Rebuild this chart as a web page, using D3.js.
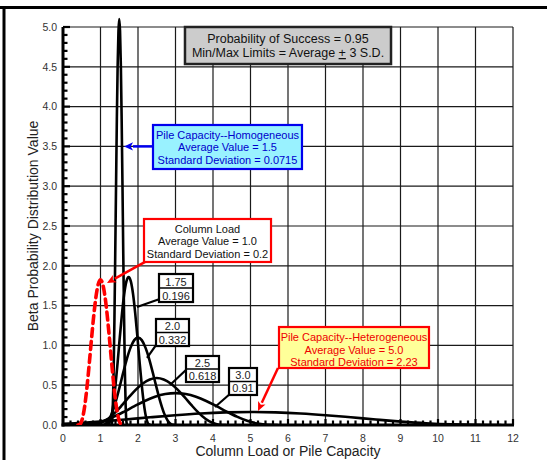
<!DOCTYPE html>
<html>
<head>
<meta charset="utf-8">
<script src="https://cdn.jsdelivr.net/npm/d3@7"></script>
<style>
  body { margin: 0; background: #fff; }
  svg text { font-family: "Liberation Sans", Arial, sans-serif; }
</style>
</head>
<body>
<svg id="chart" width="547" height="460"></svg>
<script>
// ---------------- DATA ----------------
const xTickValues = [0,1,2,3,4,5,6,7,8,9,10,11,12];
const yTickValues = [0,0.5,1,1.5,2,2.5,3,3.5,4,4.5,5];

// Column load: average 1.0, s.d. 0.2 (red dashed)
const columnLoad = [[0.40,0],[0.46,0.0125],[0.52,0.085],[0.58,0.242],[0.64,0.478],[0.70,0.769],[0.76,1.080],[0.82,1.374],[0.88,1.613],[0.94,1.769],[1.00,1.823],[1.06,1.769],[1.12,1.613],[1.18,1.374],[1.24,1.080],[1.30,0.769],[1.36,0.478],[1.42,0.242],[1.48,0.085],[1.54,0.0125],[1.60,0]];
// Pile capacity homogeneous: average 1.5, s.d. 0.0715
const pileHomog = [[1.286,0],[1.307,0.035],[1.329,0.238],[1.350,0.676],[1.372,1.337],[1.393,2.151],[1.415,3.022],[1.436,3.843],[1.457,4.511],[1.479,4.948],[1.500,5.099],[1.521,4.948],[1.543,4.511],[1.564,3.843],[1.586,3.022],[1.607,2.151],[1.629,1.337],[1.650,0.676],[1.671,0.238],[1.693,0.035],[1.714,0]];
// Average 1.75, s.d. 0.196
const pile175 = [[1.162,0],[1.221,0.013],[1.280,0.087],[1.338,0.247],[1.397,0.488],[1.456,0.785],[1.515,1.103],[1.574,1.402],[1.632,1.646],[1.691,1.805],[1.750,1.860],[1.809,1.805],[1.868,1.646],[1.926,1.402],[1.985,1.103],[2.044,0.785],[2.103,0.488],[2.162,0.247],[2.220,0.087],[2.279,0.013],[2.338,0]];
// Average 2.0, s.d. 0.332
const pile20 = [[1.004,0],[1.104,0.0075],[1.203,0.051],[1.303,0.146],[1.402,0.288],[1.502,0.463],[1.602,0.651],[1.701,0.828],[1.801,0.972],[1.900,1.066],[2.000,1.098],[2.100,1.066],[2.199,0.972],[2.299,0.828],[2.398,0.651],[2.498,0.463],[2.598,0.288],[2.697,0.146],[2.797,0.051],[2.896,0.0075],[2.996,0]];
// Average 2.5, s.d. 0.618
const pile25 = [[0.646,0],[0.831,0.004],[1.017,0.0275],[1.202,0.078],[1.388,0.155],[1.573,0.249],[1.758,0.350],[1.944,0.445],[2.129,0.522],[2.315,0.572],[2.500,0.590],[2.685,0.572],[2.871,0.522],[3.056,0.445],[3.242,0.350],[3.427,0.249],[3.612,0.155],[3.798,0.078],[3.983,0.0275],[4.169,0.004],[4.354,0]];
// Average 3.0, s.d. 0.91
const pile30 = [[0.270,0],[0.543,0.0027],[0.816,0.019],[1.089,0.053],[1.362,0.105],[1.635,0.169],[1.908,0.2375],[2.181,0.302],[2.454,0.3545],[2.727,0.389],[3.000,0.401],[3.273,0.389],[3.546,0.3545],[3.819,0.302],[4.092,0.2375],[4.365,0.169],[4.638,0.105],[4.911,0.053],[5.184,0.019],[5.457,0.0027],[5.730,0]];
// Pile capacity heterogeneous: average 5.0, s.d. 2.23
const pileHeter = [[-1.690,0],[-1.021,0.0011],[-0.352,0.0076],[0.317,0.0217],[0.986,0.0429],[1.655,0.069],[2.324,0.0969],[2.993,0.1232],[3.662,0.1446],[4.331,0.1586],[5.000,0.1635],[5.669,0.1586],[6.338,0.1446],[7.007,0.1232],[7.676,0.0969],[8.345,0.069],[9.014,0.0429],[9.683,0.0217],[10.352,0.0076],[11.021,0.0011],[11.690,0]];

const blackCurves = [pileHomog, pile175, pile20, pile25, pile30, pileHeter];

const infoLines = ["Probability of Success = 0.95", "Min/Max Limits = Average ", "+", " 3 S.D."];
const homogLines = ["Pile Capacity--Homogeneous", "Average Value = 1.5", "Standard Deviation = 0.0715"];
const columnLines = ["Column Load", "Average Value = 1.0", "Standard Deviation = 0.2"];
const heterLines = ["Pile Capacity--Heterogeneous", "Average Value = 5.0", "Standard Deviation = 2.23"];
const pairLabels = [["1.75","0.196"],["2.0","0.332"],["2.5","0.618"],["3.0","0.91"]];

// ---------------- CHART ----------------
const svg = d3.select("#chart");
const x = d3.scaleLinear().domain([0,12]).range([63,513]);
const y = d3.scaleLinear().domain([0,5]).range([425,27]);

// outer frame (top and left)
svg.append("line").attr("x1",0).attr("x2",547).attr("y1",7.5).attr("y2",7.5).attr("stroke","#000").attr("stroke-width",3);
svg.append("line").attr("x1",4).attr("x2",4).attr("y1",6).attr("y2",460).attr("stroke","#000").attr("stroke-width",3);

const defs = svg.append("defs");
defs.append("clipPath").attr("id","plotclip").append("rect")
  .attr("x",x(0)).attr("y",0).attr("width",x(12)-x(0)).attr("height",y(0));

// grid
const grid = svg.append("g");
xTickValues.filter(d=>d>0).forEach(d=>{
  grid.append("line").attr("x1",x(d)).attr("x2",x(d)).attr("y1",y(0)).attr("y2",y(5))
    .attr("stroke","#1a1a1a").attr("stroke-width",1.2);
});
yTickValues.filter(d=>d>0).forEach(d=>{
  grid.append("line").attr("x1",x(0)).attr("x2",x(12)).attr("y1",y(d)).attr("y2",y(d))
    .attr("stroke","#1a1a1a").attr("stroke-width",1.2);
});

// axes: ticks
const ax = svg.append("g");
d3.range(0,5.0001,0.1).forEach(v=>{
  const major = Math.abs(v*2 - Math.round(v*2)) < 1e-6;
  ax.append("line").attr("x1",x(0)).attr("x2",x(0)+(major?7:4.5))
    .attr("y1",y(v)).attr("y2",y(v)).attr("stroke","#000").attr("stroke-width",2.2);
});
d3.range(0,12.0001,0.2).forEach(v=>{
  const major = Math.abs(v - Math.round(v)) < 1e-6;
  ax.append("line").attr("x1",x(v)).attr("x2",x(v))
    .attr("y1",y(0)).attr("y2",y(0)-(major?6:4.5)).attr("stroke","#000").attr("stroke-width",2.2);
});
ax.append("line").attr("x1",x(0)).attr("x2",x(0)).attr("y1",y(0)+1.5).attr("y2",y(5)).attr("stroke","#000").attr("stroke-width",3);
ax.append("line").attr("x1",x(0)-1.5).attr("x2",x(12)+1).attr("y1",y(0)).attr("y2",y(0)).attr("stroke","#000").attr("stroke-width",3);

// tick labels
yTickValues.forEach(v=>{
  ax.append("text").attr("x",x(0)-6).attr("y",y(v)+3.8).attr("text-anchor","end")
    .attr("font-size",10.5).attr("fill","#333").text(d3.format(".1f")(v));
});
xTickValues.forEach(v=>{
  ax.append("text").attr("x",x(v)).attr("y",y(0)+17).attr("text-anchor","middle")
    .attr("font-size",10.5).attr("fill","#333").text(v);
});

// axis titles
svg.append("text").attr("x",288).attr("y",456).attr("text-anchor","middle")
  .attr("font-size",14).attr("fill","#222").text("Column Load or Pile Capacity");
svg.append("text").attr("transform","translate(38,226) rotate(-90)").attr("text-anchor","middle")
  .attr("font-size",14).attr("fill","#222").text("Beta Probability Distribution Value");

// curves
const line = d3.line().x(d=>x(d[0])).y(d=>y(d[1])).curve(d3.curveMonotoneX);
const cg = svg.append("g").attr("clip-path","url(#plotclip)");
blackCurves.forEach(c=>{
  cg.append("path").datum(c).attr("d",line).attr("fill","none")
    .attr("stroke","#000").attr("stroke-width",2.6).attr("stroke-linejoin","round");
});
cg.append("path").datum(columnLoad).attr("d",line).attr("fill","none")
  .attr("stroke","#ff0000").attr("stroke-width",3.6).attr("stroke-dasharray","8,5")
  .attr("stroke-linecap","round");

// arrow helper
function arrow(g, x1,y1,x2,y2,color,w,head){
  const ang = Math.atan2(y2-y1,x2-x1);
  const bx = x2 - head*Math.cos(ang), by = y2 - head*Math.sin(ang);
  g.append("line").attr("x1",x1).attr("y1",y1).attr("x2",bx).attr("y2",by)
    .attr("stroke",color).attr("stroke-width",w);
  const hw = head*0.45;
  const p = [[x2,y2],[bx+hw*Math.sin(ang), by-hw*Math.cos(ang)],[bx+head*0.25*Math.cos(ang), by+head*0.25*Math.sin(ang)],[bx-hw*Math.sin(ang), by+hw*Math.cos(ang)]];
  g.append("path").attr("d","M"+p.map(q=>q.join(",")).join("L")+"Z").attr("fill",color);
}

const ann = svg.append("g");

// info box
{
  const x0=x(3.253), x1=x(8.747), y0=y(5.0), y1=y(4.535);
  ann.append("rect").attr("x",x0).attr("y",y0).attr("width",x1-x0).attr("height",y1-y0)
    .attr("fill","#cccccc").attr("stroke","#222").attr("stroke-width",2.5);
  const cx=(x0+x1)/2;
  ann.append("text").attr("x",cx).attr("y",y0+16).attr("text-anchor","middle").attr("font-size",12.5).attr("fill","#111").text(infoLines[0]);
  const t = ann.append("text").attr("x",cx).attr("y",y0+30).attr("text-anchor","middle").attr("font-size",12.5).attr("fill","#111");
  t.append("tspan").text(infoLines[1]);
  t.append("tspan").attr("text-decoration","underline").style("text-decoration","underline").text(infoLines[2]);
  t.append("tspan").text(infoLines[3]);
}

function textBox(x0d,x1d,y0d,y1d,lines,fill,stroke,tcolor){
  const x0=x(x0d), x1=x(x1d), y0=y(y0d), y1=y(y1d);
  ann.append("rect").attr("x",x0).attr("y",y0).attr("width",x1-x0).attr("height",y1-y0)
    .attr("fill",fill).attr("stroke",stroke).attr("stroke-width",2.2);
  lines.forEach((l,i)=>{
    ann.append("text").attr("x",(x0+x1)/2).attr("y",y0+14+i*12.5).attr("text-anchor","middle")
      .attr("font-size",11).attr("fill",tcolor).text(l);
  });
}

// homogeneous (blue)
arrow(ann, x(2.4), y(3.5), x(1.627), y(3.5), "#0000ee", 2.5, 9);
textBox(2.4,6.373,3.769,3.216,homogLines,"#99f2ff","#0000ee","#0000cc");
// column load (red)
arrow(ann, x(2.19), y(2.05), x(1.173), y(1.784), "#ff0000", 2.5, 9);
textBox(2.16,5.547,2.588,2.048,columnLines,"#ffffff","#ff0000","#111");
// heterogeneous (yellow)
arrow(ann, x(5.733), y(0.716), x(5.2), y(0.176), "#ff0000", 2.5, 9);
textBox(5.76,9.76,1.231,0.716,heterLines,"#ffff99","#ff0000","#ee0000");

// pair boxes
const pairBoxes = [
  {b:[2.56,3.467,1.897,1.545], lead:[2.56,1.58,1.973,1.482]},
  {b:[2.48,3.36,1.332,0.992], lead:[2.48,1.005,2.24,0.842]},
  {b:[3.28,4.16,0.867,0.540], lead:[3.30,0.70,2.853,0.503]},
  {b:[4.427,5.173,0.716,0.377], lead:[4.427,0.38,4.053,0.226]}
];
pairBoxes.forEach((pb,i)=>{
  const [ax0,ax1,ay0,ay1] = pb.b;
  const [l1x,l1y,l2x,l2y] = pb.lead;
  ann.append("line").attr("x1",x(l1x)).attr("y1",y(l1y)).attr("x2",x(l2x)).attr("y2",y(l2y))
    .attr("stroke","#000").attr("stroke-width",2.2);
  const x0=x(ax0), x1=x(ax1), y0=y(ay0), y1=y(ay1), ym=(y0+y1)/2;
  ann.append("rect").attr("x",x0).attr("y",y0).attr("width",x1-x0).attr("height",y1-y0)
    .attr("fill","#fff").attr("stroke","#000").attr("stroke-width",2.2);
  ann.append("line").attr("x1",x0).attr("x2",x1).attr("y1",ym).attr("y2",ym).attr("stroke","#000").attr("stroke-width",1.5);
  ann.append("text").attr("x",(x0+x1)/2).attr("y",ym-2.5).attr("text-anchor","middle").attr("font-size",11).attr("fill","#222").text(pairLabels[i][0]);
  ann.append("text").attr("x",(x0+x1)/2).attr("y",y1-2.5).attr("text-anchor","middle").attr("font-size",11).attr("fill","#222").text(pairLabels[i][1]);
});
</script>
</body>
</html>
